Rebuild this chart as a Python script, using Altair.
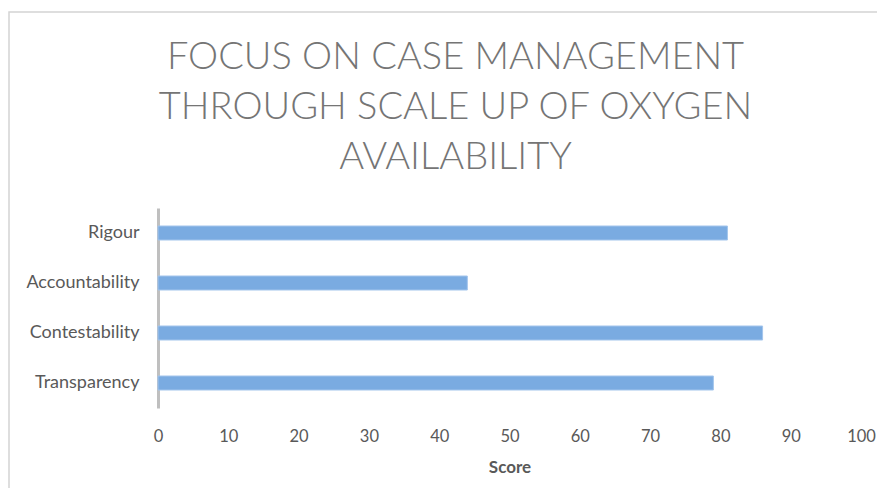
import altair as alt
import pandas as pd

categories = ["Rigour", "Accountability", "Contestability", "Transparency"]
scores = [81, 44, 86, 79]
x_ticks = [0, 10, 20, 30, 40, 50, 60, 70, 80, 90, 100]
title_lines = ["FOCUS ON CASE MANAGEMENT", "THROUGH SCALE UP OF OXYGEN", "AVAILABILITY"]

df = pd.DataFrame({"Category": categories, "Score": scores})

bars = alt.Chart(df).mark_bar(
    size=14, color="#7aabe1", stroke="#a3c5ec", strokeWidth=1
).encode(
    x=alt.X("Score:Q",
            scale=alt.Scale(domain=[0, 100], nice=False),
            axis=alt.Axis(values=x_ticks, grid=False, domain=False, ticks=False,
                          labelFlush=False,
                          labelFont="Lato", labelFontSize=16.5, labelColor="#595959",
                          labelPadding=20, title="Score", titleFont="Lato",
                          titleFontSize=17, titleFontWeight="bold",
                          titleColor="#595959", titlePadding=15)),
    y=alt.Y("Category:N", sort=categories,
            axis=alt.Axis(title=None, ticks=False, grid=False, domain=True,
                          domainColor="#bfbfbf", domainWidth=3,
                          labelFont="Lato", labelFontSize=18, labelColor="#595959",
                          labelPadding=19)),
)

border = alt.Chart(alt.Data(values=[{}])).mark_rect(
    fill=None, stroke="#d4d4d4", strokeWidth=1.5
).encode(
    x=alt.value(-149), x2=alt.value(760), y=alt.value(-196), y2=alt.value(320)
)

chart = alt.layer(border, bars).properties(
    width=703, height=200,
    title=alt.TitleParams(
        text=title_lines, font="Lato", fontSize=38, fontWeight=300,
        color="#757575", lineHeight=50, anchor="middle", dx=-54, offset=0, dy=166,
    ),
    autosize=alt.AutoSizeParams(type="none"),
    padding={"left": 150, "top": 200, "right": 16, "bottom": 80},
).configure_view(stroke=None).configure_title(limit=0)

chart.save("out.html", embed_options={"renderer": "svg", "actions": False})
